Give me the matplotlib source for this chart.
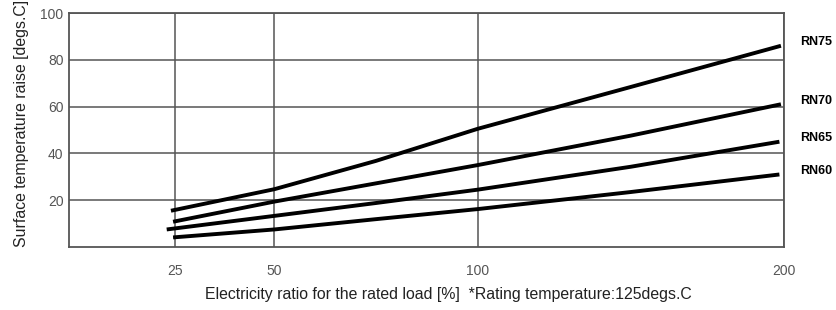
import matplotlib
matplotlib.use("Agg")
import matplotlib.pyplot as plt
import numpy as np

plt.rcParams["font.family"] = ["Liberation Sans", "DejaVu Sans"]

# Data
ratio_rn75 = [24, 50, 75, 100, 150, 199]
temp_rn75 = [15.5, 24.7, 36.8, 50.5, 68.4, 86.0]

ratio_rn70 = [24.5, 50, 75, 100, 150, 199]
temp_rn70 = [10.8, 19.4, 27.2, 35.0, 47.6, 61.0]

ratio_rn65 = [23, 50, 75, 100, 150, 198.5]
temp_rn65 = [7.5, 13.3, 18.8, 24.5, 34.3, 45.0]

ratio_rn60 = [24.5, 50, 75, 100, 150, 198.5]
temp_rn60 = [4.1, 7.5, 11.9, 16.2, 23.5, 31.0]

series = [
    ("RN75", ratio_rn75, temp_rn75),
    ("RN70", ratio_rn70, temp_rn70),
    ("RN65", ratio_rn65, temp_rn65),
    ("RN60", ratio_rn60, temp_rn60),
]

x_ticks = [25, 50, 100, 200]
y_ticks = [20, 40, 60, 80, 100]

# the x axis of the original is not linear: wide below 100 %, tight above
scale_in = [0, 25, 50, 100, 200]
scale_out = [0, 1.04, 2.01, 4, 7]


def forward(x):
    return np.interp(np.asarray(x, dtype=float), scale_in, scale_out)


def inverse(u):
    return np.interp(np.asarray(u, dtype=float), scale_out, scale_in)


fig = plt.figure(figsize=(8.36, 3.10), dpi=100)
ax = fig.add_axes([0.0825, 0.2032, 0.8553, 0.7548])

ax.set_xscale("function", functions=(forward, inverse))
ax.set_xlim(0, 200)
ax.set_ylim(0, 100)

ax.set_xticks(x_ticks)
ax.set_yticks(y_ticks)
ax.tick_params(axis="both", length=0, labelsize=10, labelcolor="#555555")
ax.tick_params(axis="x", pad=12)
ax.tick_params(axis="y", pad=4)

ax.grid(True, color="#555555", linewidth=1.1)
ax.set_axisbelow(True)
for spine in ax.spines.values():
    spine.set_color("#555555")
    spine.set_linewidth(1.3)

for name, xs, ys in series:
    ax.plot(xs, ys, color="black", linewidth=2.8, solid_capstyle="butt")
    ax.text(1.022, ys[-1] + 1.5, name, transform=ax.get_yaxis_transform(),
            fontsize=9, fontweight="bold", va="center", ha="left")

ax.set_xlabel("Electricity ratio for the rated load [%]  *Rating temperature:125degs.C",
              fontsize=11.4, color="#222222", labelpad=7, x=0.53)
ax.set_ylabel("Surface temperature raise [degs.C]", fontsize=11.4,
              color="#222222", labelpad=8, y=0.53)

fig.savefig("out.png", dpi=100)
